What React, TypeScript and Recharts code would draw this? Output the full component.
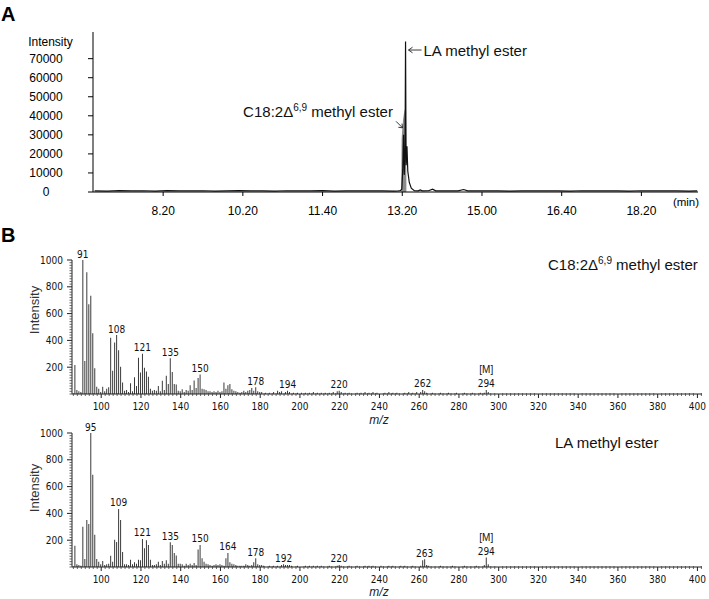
import React from 'react';
import { ComposedChart, Bar, Line, Area, Scatter, XAxis, YAxis, LabelList } from 'recharts';

const FONT = '"Liberation Sans", Arial, sans-serif';
const VFONT = '"DejaVu Sans Condensed", "DejaVu Sans", Verdana, sans-serif';

// ---------- Panel A: chromatogram ----------
const timeTickPos = [1, 2, 3, 4, 5, 6, 7];
const timeTickLabels = ['8.20', '10.20', '11.40', '13.20', '15.00', '16.40', '18.20'];
const intensityTicksA = [0, 10000, 20000, 30000, 40000, 50000, 60000, 70000];

const traceU = [0.14, 0.3, 0.45, 0.6, 0.75, 0.9, 1.05, 1.2, 1.35, 1.5, 1.65, 1.8, 1.95, 2.1, 2.25, 2.4, 2.55, 2.7, 2.85, 3.0, 3.15, 3.3, 3.45, 3.6, 3.75, 3.9, 3.95, 3.975, 3.994, 4.006, 4.016, 4.025, 4.035, 4.041, 4.048, 4.059, 4.069, 4.088, 4.113, 4.151, 4.2, 4.226, 4.25, 4.33, 4.38, 4.42, 4.5, 4.6, 4.7, 4.77, 4.82, 4.9, 5.05, 5.2, 5.35, 5.5, 5.65, 5.8, 5.95, 6.1, 6.25, 6.4, 6.55, 6.7, 6.85, 7.0, 7.15, 7.3, 7.45, 7.6, 7.7];
const traceI = [600, 500, 700, 550, 650, 500, 700, 600, 550, 650, 500, 600, 700, 550, 600, 500, 650, 600, 550, 700, 500, 600, 650, 550, 600, 500, 600, 700, 1500, 12000, 30000, 9000, 22000, 79000, 14000, 24000, 11000, 5000, 2000, 700, 600, 1100, 600, 650, 1500, 600, 550, 650, 600, 1300, 600, 550, 650, 600, 500, 600, 650, 550, 600, 500, 650, 600, 550, 600, 500, 650, 600, 550, 600, 500, 600];

const c18U = [3.987, 3.992, 4.0, 4.01, 4.02, 4.03, 4.04, 4.047, 4.052];
const c18I = [0, 28000, 33000, 38000, 41000, 43000, 44000, 38000, 0];

const annU = [4.041, 4.016];
const annI = [79000, 30000];
const annKind = ['LA', 'C18'];

// ---------- Panel B: mass spectra ----------
const mzMainStart = 87;
const mzMainEnd = 180;
const mzTickLabels = [100, 120, 140, 160, 180, 200, 220, 240, 260, 280, 300, 320, 340, 360, 380, 400];
const intensityTicksB = [200, 400, 600, 800, 1000];

const topMainValues = [216, 30, 20, 15, 1000, 246, 908, 669, 734, 453, 192, 55, 40, 15, 55, 20, 40, 50, 420, 174, 385, 440, 326, 204, 85, 25, 30, 15, 80, 20, 125, 60, 271, 160, 301, 196, 168, 128, 40, 25, 30, 25, 60, 20, 98, 30, 136, 75, 266, 165, 75, 70, 25, 20, 35, 15, 30, 25, 66, 30, 100, 45, 120, 145, 40, 35, 30, 20, 20, 15, 20, 15, 25, 15, 20, 85, 40, 65, 75, 35, 25, 20, 15, 10, 15, 25, 15, 25, 30, 45, 25, 50, 20, 15];
const topNoiseMz = [181, 183, 185, 187, 189, 190, 191, 193, 194, 195, 197, 199, 201, 203, 205, 207, 209, 211, 213, 215, 217, 219, 220, 221, 223, 225, 229, 231, 233, 235, 237, 239, 243, 245, 247, 249, 253, 255, 257, 259, 261, 262, 263, 264, 267, 271, 275, 279, 283, 287, 291, 293, 294, 295];
const topNoiseValues = [15, 10, 10, 15, 25, 15, 20, 15, 25, 15, 10, 10, 10, 10, 10, 15, 10, 10, 10, 10, 15, 20, 25, 15, 10, 10, 10, 10, 15, 10, 15, 10, 10, 15, 10, 10, 10, 15, 10, 15, 15, 30, 20, 10, 10, 10, 10, 10, 10, 10, 10, 10, 30, 15];
const topPeakLabels = [91, 108, 121, 135, 150, 178, 194, 220, 262, 294];

const botMainValues = [159, 20, 15, 10, 300, 60, 351, 321, 1000, 689, 241, 60, 40, 20, 45, 15, 20, 25, 84, 40, 204, 187, 433, 351, 112, 20, 20, 15, 55, 20, 35, 25, 55, 50, 209, 140, 200, 165, 55, 15, 15, 20, 40, 15, 45, 25, 50, 25, 185, 165, 105, 85, 25, 25, 20, 10, 25, 15, 25, 15, 30, 15, 130, 165, 65, 40, 25, 20, 15, 10, 15, 20, 15, 20, 15, 10, 65, 105, 35, 25, 20, 15, 10, 10, 10, 10, 20, 15, 10, 15, 35, 65, 20, 15];
const botNoiseMz = [181, 182, 185, 187, 189, 191, 192, 193, 194, 195, 196, 199, 203, 205, 207, 209, 211, 215, 219, 220, 221, 225, 229, 233, 235, 237, 241, 245, 247, 251, 253, 257, 261, 262, 263, 264, 265, 271, 277, 283, 289, 293, 294, 295];
const botNoiseValues = [15, 10, 10, 10, 10, 15, 20, 15, 15, 15, 10, 10, 10, 10, 10, 10, 10, 10, 10, 15, 10, 10, 10, 10, 10, 10, 10, 10, 10, 10, 10, 10, 10, 50, 57, 15, 10, 10, 10, 10, 10, 15, 70, 20];
const botPeakLabels = [95, 109, 121, 135, 150, 164, 178, 192, 220, 263, 294];
const molecularIon = 294;

// ---------- build tables ----------
const traceData = traceU.map((u, k) => ({ u, i: traceI[k] }));
const c18Data = c18U.map((u, k) => ({ u, i: c18I[k] }));
const annData = annU.map((u, k) => ({ u, i: annI[k], kind: annKind[k] }));

function buildSpectrum(mainVals: number[], noiseMz: number[], noiseVals: number[], labels: number[]) {
  const rows: { mz: number; v: number; lbl: string }[] = [];
  mainVals.forEach((v, k) => {
    const mz = mzMainStart + k;
    if (mz <= mzMainEnd) rows.push({ mz, v, lbl: labels.includes(mz) ? String(mz) : '' });
  });
  noiseMz.forEach((mz, k) => rows.push({ mz, v: noiseVals[k], lbl: labels.includes(mz) ? String(mz) : '' }));
  return rows;
}
const topSpectrum = buildSpectrum(topMainValues, topNoiseMz, topNoiseValues, topPeakLabels);
const botSpectrum = buildSpectrum(botMainValues, botNoiseMz, botNoiseValues, botPeakLabels);

const mzMinorTicks: number[] = [];
for (let t = 86; t <= 402; t += 2) mzMinorTicks.push(t);
const intMinorTicks: number[] = [];
for (let t = 0; t <= 1000; t += 20) intMinorTicks.push(t);

// ---------- tick renderers ----------
const TimeTick = (p: any) => {
  const { x, y, payload } = p;
  const idx = timeTickPos.indexOf(payload.value);
  return (
    <g>
      <line x1={x} x2={x} y1={y} y2={y + 4} stroke="#000" strokeWidth={1} />
      <text x={x} y={y + 19} textAnchor="middle" dominantBaseline="central" fontSize={12} fontFamily={FONT} fill="#000">
        {timeTickLabels[idx]}
      </text>
    </g>
  );
};

const IntTickA = (p: any) => {
  const { x, y, payload } = p;
  return (
    <g>
      <line x1={x - 5} x2={x} y1={y} y2={y} stroke="#000" strokeWidth={1} />
      <text x={x - 47} y={y} textAnchor="middle" dominantBaseline="central" fontSize={12} fontFamily={FONT} fill="#000">
        {payload.value}
      </text>
    </g>
  );
};

const MzTick = (p: any) => {
  const { x, y, payload } = p;
  const v = payload.value;
  const major = mzTickLabels.includes(v);
  return (
    <g>
      {major ? (
        <line x1={x} x2={x} y1={y} y2={y + 4} stroke="#222" strokeWidth={1} />
      ) : (
        <line x1={x} x2={x} y1={y - 1} y2={y + 2} stroke="#444" strokeWidth={0.8} />
      )}
      {major && (
        <text x={x} y={y + 12} textAnchor="middle" dominantBaseline="central" fontSize={10} fontFamily={VFONT} fill="#111">
          {v}
        </text>
      )}
    </g>
  );
};

const IntTickB = (p: any) => {
  const { x, y, payload } = p;
  const v = payload.value;
  const major = intensityTicksB.includes(v);
  return (
    <g>
      {major ? (
        <line x1={x - 5} x2={x} y1={y} y2={y} stroke="#222" strokeWidth={1} />
      ) : (
        <line x1={x - 2.5} x2={x} y1={y} y2={y} stroke="#444" strokeWidth={0.8} />
      )}
      {major && (
        <text x={x - 9} y={y} textAnchor="end" dominantBaseline="central" fontSize={10} fontFamily={VFONT} fill="#111">
          {v}
        </text>
      )}
    </g>
  );
};

const PeakLabel = (p: any) => {
  const { x, y, width, value } = p;
  if (!value) return null;
  const cx = x + width / 2;
  return (
    <g>
      <text x={cx} y={y - 2.5} textAnchor="middle" fontSize={10} fontFamily={VFONT} fill="#111">
        {value}
      </text>
      {Number(value) === molecularIon && (
        <text x={cx} y={y - 16.5} textAnchor="middle" fontSize={10} fontFamily={FONT} fill="#111">
          [M]
        </text>
      )}
    </g>
  );
};

const Annotation = (p: any) => {
  const { cx, cy, payload } = p;
  if (payload.kind === 'LA') {
    const ay = cy + 8.5;
    return (
      <g>
        <line x1={cx + 3} y1={ay} x2={cx + 16} y2={ay} stroke="#222" strokeWidth={0.9} />
        <path d={`M${cx + 7},${ay - 2.8} L${cx + 3},${ay} L${cx + 7},${ay + 2.8}`} fill="none" stroke="#222" strokeWidth={0.9} />
        <text x={cx + 18} y={cy + 14.5} fontSize={15} fontFamily={FONT} fill="#111">LA methyl ester</text>
      </g>
    );
  }
  const tx = cx - 1, ty = cy - 7;
  return (
    <g>
      <line x1={cx - 7.5} y1={cy - 13.5} x2={tx} y2={ty} stroke="#222" strokeWidth={0.9} />
      <path d={`M${tx - 4.2},${ty - 0.6} L${tx},${ty} L${tx - 0.6},${ty - 4.2}`} fill="none" stroke="#222" strokeWidth={0.9} />
      <text x={cx - 10.6} y={cy - 18} textAnchor="end" fontSize={15} fontFamily={FONT} fill="#111">
        C18:2Δ<tspan fontSize={10} dy={-6}>6,9</tspan><tspan dy={6}> methyl ester</tspan>
      </text>
    </g>
  );
};

function Spectrum({ data, top, height, mTop, xH }: { data: any[]; top: number; height: number; mTop: number; xH: number }) {
  return (
    <div style={{ position: 'absolute', left: 0, top }}>
      <ComposedChart width={709} height={height} data={data} margin={{ top: mTop, right: 7, bottom: 6, left: 0 }}>
        <XAxis type="number" dataKey="mz" domain={[85.3, 402.3]} ticks={mzMinorTicks} interval={0} tickSize={0} tickMargin={0} tick={<MzTick />} height={xH} axisLine={{ stroke: '#222' }} allowDataOverflow />
        <YAxis type="number" domain={[0, 1000]} ticks={intMinorTicks} interval={0} width={72} tickSize={0} tickMargin={0} tick={<IntTickB />} axisLine={{ stroke: '#222' }} allowDataOverflow />
        <Bar dataKey="v" barSize={1} fill="#3a3a3a" isAnimationActive={false}>
          <LabelList dataKey="lbl" content={<PeakLabel />} />
        </Bar>
      </ComposedChart>
    </div>
  );
}

export default function App() {
  return (
    <div style={{ position: 'absolute', left: 0, top: 0, width: 709, height: 599, background: '#fff', overflow: 'hidden' }}>
      <div style={{ position: 'absolute', left: 0, top: 0 }}>
        <ComposedChart width={709} height={226} margin={{ top: 32, right: 11, bottom: 4, left: 0 }}>
          <XAxis type="number" dataKey="u" domain={[0.12, 7.71]} ticks={timeTickPos} interval={0} tickSize={0} tickMargin={0} tick={<TimeTick />} height={30} axisLine={{ stroke: '#000' }} allowDataOverflow />
          <YAxis type="number" domain={[0, 84000]} ticks={intensityTicksA} interval={0} width={93} tickSize={0} tickMargin={0} tick={<IntTickA />} axisLine={{ stroke: '#000' }} allowDataOverflow />
          <Area data={c18Data} dataKey="i" type="linear" fill="#8c8c8c" fillOpacity={1} stroke="none" isAnimationActive={false} />
          <Line data={traceData} dataKey="i" type="linear" stroke="#111" strokeWidth={1.2} dot={false} isAnimationActive={false} />
          <Scatter data={annData} dataKey="i" shape={<Annotation />} isAnimationActive={false} />
        </ComposedChart>
      </div>
      <Spectrum data={topSpectrum} top={220} height={210} mTop={40} xH={30} />
      <Spectrum data={botSpectrum} top={400} height={199} mTop={33} xH={26} />
      <svg width={709} height={599} style={{ position: 'absolute', left: 0, top: 0, pointerEvents: 'none' }}>
        <text x={1} y={20.7} fontSize={20} fontWeight="bold" fontFamily={FONT} fill="#000">A</text>
        <text x={1} y={241.7} fontSize={20} fontWeight="bold" fontFamily={FONT} fill="#000">B</text>
        <text x={50.5} y={45.5} textAnchor="middle" fontSize={12} fontFamily={FONT} fill="#000">Intensity</text>
        <text x={686} y={202} textAnchor="middle" dominantBaseline="central" fontSize={11.5} fontFamily={FONT} fill="#000">(min)</text>
        <text transform="translate(34,310) rotate(-90)" textAnchor="middle" dominantBaseline="central" fontSize={13} fontFamily={FONT} fill="#333">Intensity</text>
        <text transform="translate(34,488) rotate(-90)" textAnchor="middle" dominantBaseline="central" fontSize={13} fontFamily={FONT} fill="#333">Intensity</text>
        <text x={379} y={420} textAnchor="middle" dominantBaseline="central" fontSize={12} fontStyle="italic" fontFamily={FONT} fill="#222">m/z</text>
        <text x={379} y={592} textAnchor="middle" dominantBaseline="central" fontSize={12} fontStyle="italic" fontFamily={FONT} fill="#222">m/z</text>
        <text x={548} y={269.5} fontSize={15} fontFamily={FONT} fill="#111">
          C18:2Δ<tspan fontSize={10} dy={-6}>6,9</tspan><tspan dy={6}> methyl ester</tspan>
        </text>
        <text x={555} y={447.5} fontSize={15} fontFamily={FONT} fill="#111">LA methyl ester</text>
      </svg>
    </div>
  );
}
